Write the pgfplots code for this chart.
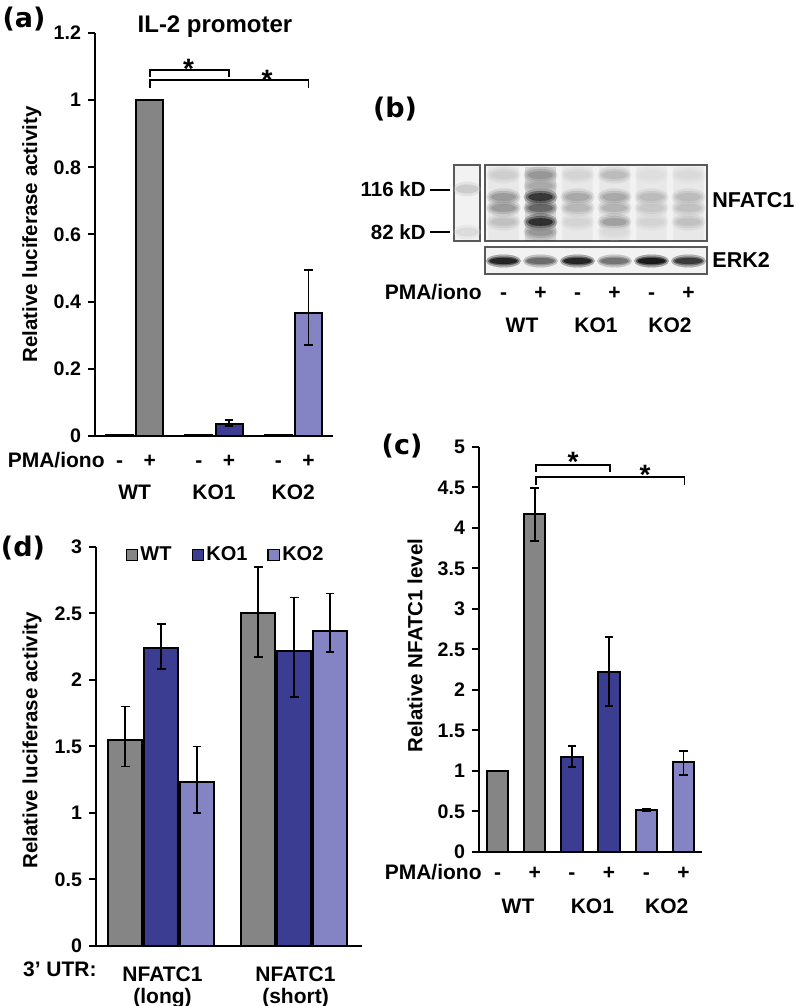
\documentclass[border=0pt]{standalone}
\usepackage{pgfplots}
\pgfplotsset{compat=1.18}
\usepackage{pgfplotstable}
\usepackage{fontspec}
\setmainfont{Liberation Sans}
\newfontfamily\panelfont{DejaVu Sans}

\definecolor{cWT}{RGB}{133,133,133}
\definecolor{cKOa}{RGB}{58,61,146}
\definecolor{cKOb}{RGB}{132,132,196}

% ---------- panel (a): IL-2 promoter ----------
\pgfplotstableread{
x y ep em
-0.19 0.003 0 0
0.19 1.000 0 0
}\aWT
\pgfplotstableread{
x y ep em
0.81 0.003 0 0
1.19 0.037 0.010 0.007
}\aKOa
\pgfplotstableread{
x y ep em
1.81 0.003 0 0
2.19 0.367 0.128 0.097
}\aKOb
% ---------- panel (c): NFATC1 level ----------
\pgfplotstableread{
x y ep em
0 1.00 0 0
1 4.17 0.32 0.33
}\cWT
\pgfplotstableread{
x y ep em
2 1.17 0.14 0.12
3 2.22 0.43 0.42
}\cKOa
\pgfplotstableread{
x y ep em
4 0.52 0.015 0.015
5 1.11 0.14 0.16
}\cKOb
% ---------- panel (d): 3' UTR ----------
\pgfplotstableread{
x y ep em
-0.28 1.55 0.25 0.20
0.72 2.50 0.35 0.33
}\dWT
\pgfplotstableread{
x y ep em
-0.01 2.24 0.18 0.16
0.99 2.22 0.40 0.35
}\dKOa
\pgfplotstableread{
x y ep em
0.26 1.23 0.27 0.23
1.26 2.37 0.28 0.16
}\dKOb
% ---------- panel (b): blot band intensities ----------
\pgfplotstableread{
x y c
1 66 0.18
1 44 0.45
1 33 0.45
1 19 0.25
2 66 0.45
2 55 0.35
2 44 0.95
2 33 0.70
2 19 1.00
2 9 0.45
3 66 0.15
3 44 0.38
3 33 0.30
3 19 0.15
4 66 0.28
4 44 0.38
4 33 0.32
4 19 0.42
4 9 0.12
5 66 0.10
5 44 0.28
5 33 0.22
5 19 0.15
6 66 0.12
6 44 0.28
6 33 0.25
6 19 0.25
}\blotN
\pgfplotstableread{
x y c
0.5 52 0.25
0.5 9 0.15
}\blotM
\pgfplotstableread{
x y c
1 13 0.95
2 13 0.62
3 13 0.95
4 13 0.58
5 13 1.00
6 13 0.85
}\blotE

\pgfplotsset{
  barax/.style={
    scale only axis, anchor=south west,
    axis x line=bottom, axis y line=left,
    axis line style={-, line width=1pt, black},
    tick align=outside, major tick length=3.5pt,
    ytick style={line width=1pt, black},
    xtick style={draw=none},
    yticklabel style={font=\fontsize{9.8}{11}\selectfont\bfseries},
    xticklabel style={font=\fontsize{10.5}{12}\selectfont\bfseries, anchor=base},
    /pgf/number format/assume math mode=true,
    ylabel style={font=\fontsize{10.25}{12}\selectfont\bfseries, anchor=center},
    clip=false,
  },
  errs/.style={error bars/.cd, y dir=both, y explicit,
    error bar style={line width=0.9pt, black, solid},
    error mark options={rotate=90, line width=0.9pt, black, mark size=2.2pt}},
  sqlegend/.style={legend image code/.code={\draw[##1, /tikz/.cd, draw=black, line width=0.8pt] (0pt,-2.8pt) -- (5.6pt,-2.8pt) -- (5.6pt,2.8pt) -- (0pt,2.8pt) -- cycle;}},
  blotax/.style={scale only axis, anchor=south west, xtick=\empty, ytick=\empty,
    axis line style={line width=0.6pt, black!65},
    axis background/.style={fill=black!5},
    colormap={blot}{color=(black!4) color=(black)},
    point meta min=0, point meta max=1},
  band/.style n args={3}{scatter, only marks, scatter src=explicit, mark=*, mark size=#1,
    scatter/use mapped color={draw=mapped color, fill=mapped color},
    mark options={xscale=#2, opacity=#3, line width=0.05pt}},
}

\begin{document}
\begin{tikzpicture}
\path[use as bounding box] (0,0) rectangle (400pt,503pt);

% ===================== (a) =====================
\begin{axis}[barax, at={(47.5pt,285pt)}, width=119pt, height=201.5pt,
  xmin=-0.5, xmax=2.5, ymin=0, ymax=1.2,
  ytick={0,0.2,0.4,0.6,0.8,1,1.2},
  xtick={-0.19,0.19,0.81,1.19,1.81,2.19}, xticklabels={-,+,-,+,-,+},
  xticklabel style={yshift=-12.5pt},
  extra x ticks={0,1,2}, extra x tick labels={WT,KO1,KO2},
  extra x tick style={xticklabel style={yshift=-16pt}},
  ylabel={Relative luciferase activity},
  ylabel style={at={(axis description cs:-0.265,0.5)}}]
\addplot[ybar, bar width=0.34, bar shift=0pt, fill=cWT, draw=black, line width=1pt, errs] table[x=x,y=y,y error plus=ep,y error minus=em]{\aWT};
\addplot[ybar, bar width=0.34, bar shift=0pt, fill=cKOa, draw=black, line width=1pt, errs] table[x=x,y=y,y error plus=ep,y error minus=em]{\aKOa};
\addplot[ybar, bar width=0.34, bar shift=0pt, fill=cKOb, draw=black, line width=1pt, errs] table[x=x,y=y,y error plus=ep,y error minus=em]{\aKOb};
% bar outlines
\addplot[sharp plot, black, line width=1pt, no marks] coordinates {(-0.36,0) (-0.36,0.003) (-0.02,0.003) (-0.02,0)};
\addplot[sharp plot, black, line width=1pt, no marks] coordinates {(0.02,0) (0.02,1.000) (0.36,1.000) (0.36,0)};
\addplot[sharp plot, black, line width=1pt, no marks] coordinates {(0.64,0) (0.64,0.003) (0.98,0.003) (0.98,0)};
\addplot[sharp plot, black, line width=1pt, no marks] coordinates {(1.02,0) (1.02,0.037) (1.36,0.037) (1.36,0)};
\addplot[sharp plot, black, line width=1pt, no marks] coordinates {(1.64,0) (1.64,0.003) (1.98,0.003) (1.98,0)};
\addplot[sharp plot, black, line width=1pt, no marks] coordinates {(2.02,0) (2.02,0.367) (2.36,0.367) (2.36,0)};
% significance brackets
\addplot[sharp plot, black, line width=0.9pt, no marks] coordinates {(0.19,1.068) (0.19,1.089) (1.19,1.089) (1.19,1.068)};
\addplot[sharp plot, black, line width=0.9pt, no marks] coordinates {(0.19,1.036) (0.19,1.060) (2.19,1.060) (2.19,1.036)};
\node[font=\fontsize{14}{14}\selectfont\bfseries, anchor=north, inner sep=0pt] at (axis cs:0.68,1.124) {*};
\node[font=\fontsize{14}{14}\selectfont\bfseries, anchor=north, inner sep=0pt] at (axis cs:1.67,1.091) {*};
\end{axis}

% ===================== (b) blot =====================
\begin{axis}[blotax, at={(227pt,382.5pt)}, width=13pt, height=38pt,
  xmin=0, xmax=1, ymin=0, ymax=76]
\addplot[band={3.6pt}{1.9}{0.25}] table[x=x,y=y,meta=c]{\blotM};
\addplot[band={2.2pt}{2.5}{0.5}] table[x=x,y=y,meta=c]{\blotM};
\end{axis}
\begin{axis}[blotax, at={(242.5pt,382.5pt)}, width=111pt, height=38pt,
  xmin=0.5, xmax=6.5, ymin=0, ymax=76]
\addplot[ybar, bar width=0.82, bar shift=0pt, draw=none, fill=black, fill opacity=0.04] coordinates {(1,74) (3,74) (4,74) (5,74) (6,74)};
\addplot[ybar, bar width=0.82, bar shift=0pt, draw=none, fill=black, fill opacity=0.12] coordinates {(2,74)};
\addplot[band={4.2pt}{2.0}{0.22}] table[x=x,y=y,meta=c]{\blotN};
\addplot[band={3.0pt}{2.45}{0.35}] table[x=x,y=y,meta=c]{\blotN};
\addplot[band={1.9pt}{3.2}{0.55}] table[x=x,y=y,meta=c]{\blotN};
\end{axis}
\begin{axis}[blotax, at={(242.5pt,366pt)}, width=111pt, height=13.5pt,
  xmin=0.5, xmax=6.5, ymin=0, ymax=27,
  xtick={1,2,3,4,5,6}, xticklabels={-,+,-,+,-,+},
  xtick style={draw=none},
  xticklabel style={font=\fontsize{10.5}{12}\selectfont\bfseries, anchor=base, yshift=-13pt},
  extra x ticks={1.5,3.5,5.5}, extra x tick labels={WT,KO1,KO2},
  extra x tick style={xticklabel style={yshift=-16.5pt}}]
\addplot[band={3.2pt}{2.7}{0.3}] table[x=x,y=y,meta=c]{\blotE};
\addplot[band={2.2pt}{3.5}{0.45}] table[x=x,y=y,meta=c]{\blotE};
\addplot[band={1.5pt}{4.6}{0.7}] table[x=x,y=y,meta=c]{\blotE};
\end{axis}

% ===================== (c) =====================
\begin{axis}[barax, at={(239.5pt,77pt)}, width=111.5pt, height=202.5pt,
  xmin=-0.5, xmax=5.5, ymin=0, ymax=5,
  ytick={0,0.5,1,1.5,2,2.5,3,3.5,4,4.5,5},
  xtick={0,1,2,3,4,5}, xticklabels={-,+,-,+,-,+},
  xticklabel style={yshift=-10.5pt},
  extra x ticks={0.55,2.55,4.55}, extra x tick labels={WT,KO1,KO2},
  extra x tick style={xticklabel style={yshift=-16.5pt}},
  ylabel={Relative NFATC1 level},
  ylabel style={at={(axis description cs:-0.287,0.51)}}]
\addplot[ybar, bar width=0.57, bar shift=0pt, fill=cWT, draw=black, line width=1pt, errs] table[x=x,y=y,y error plus=ep,y error minus=em]{\cWT};
\addplot[ybar, bar width=0.57, bar shift=0pt, fill=cKOa, draw=black, line width=1pt, errs] table[x=x,y=y,y error plus=ep,y error minus=em]{\cKOa};
\addplot[ybar, bar width=0.57, bar shift=0pt, fill=cKOb, draw=black, line width=1pt, errs] table[x=x,y=y,y error plus=ep,y error minus=em]{\cKOb};
% bar outlines
\addplot[sharp plot, black, line width=1pt, no marks] coordinates {(-0.285,0) (-0.285,1.00) (0.285,1.00) (0.285,0)};
\addplot[sharp plot, black, line width=1pt, no marks] coordinates {(0.715,0) (0.715,4.17) (1.285,4.17) (1.285,0)};
\addplot[sharp plot, black, line width=1pt, no marks] coordinates {(1.715,0) (1.715,1.17) (2.285,1.17) (2.285,0)};
\addplot[sharp plot, black, line width=1pt, no marks] coordinates {(2.715,0) (2.715,2.22) (3.285,2.22) (3.285,0)};
\addplot[sharp plot, black, line width=1pt, no marks] coordinates {(3.715,0) (3.715,0.52) (4.285,0.52) (4.285,0)};
\addplot[sharp plot, black, line width=1pt, no marks] coordinates {(4.715,0) (4.715,1.11) (5.285,1.11) (5.285,0)};
% significance brackets
\addplot[sharp plot, black, line width=0.9pt, no marks] coordinates {(1.03,4.69) (1.03,4.78) (3.03,4.78) (3.03,4.69)};
\addplot[sharp plot, black, line width=0.9pt, no marks] coordinates {(1.03,4.53) (1.03,4.63) (5.03,4.63) (5.03,4.53)};
\node[font=\fontsize{14}{14}\selectfont\bfseries, anchor=north, inner sep=0pt] at (axis cs:2.03,4.94) {*};
\node[font=\fontsize{14}{14}\selectfont\bfseries, anchor=north, inner sep=0pt] at (axis cs:3.97,4.78) {*};
\end{axis}

% ===================== (d) =====================
\begin{axis}[barax, at={(48pt,30pt)}, width=133pt, height=199.5pt,
  xmin=-0.5, xmax=1.5, ymin=0, ymax=3,
  ytick={0,0.5,1,1.5,2,2.5,3},
  xtick={0,1}, xticklabels={{NFATC1\\(long)},{NFATC1\\(short)}},
  xticklabel style={align=center, anchor=north, inner sep=0pt, yshift=-6.5pt,
    font=\fontsize{10.5}{11}\selectfont\bfseries},
  ylabel={Relative luciferase activity},
  ylabel style={at={(axis description cs:-0.24,0.516)}},
  legend style={at={(0.11,1.012)}, anchor=north west, draw=none, fill=none,
    inner sep=0pt, font=\fontsize{10}{12}\selectfont\bfseries,
    nodes={inner xsep=1pt},
    /tikz/every even column/.append style={column sep=9pt}},
  legend columns=3, legend cell align=left]
\addplot[ybar, bar width=0.255, bar shift=0pt, fill=cWT, draw=black, line width=1pt, sqlegend, errs] table[x=x,y=y,y error plus=ep,y error minus=em]{\dWT};
\addlegendentry{WT}
\addplot[ybar, bar width=0.255, bar shift=0pt, fill=cKOa, draw=black, line width=1pt, sqlegend, errs] table[x=x,y=y,y error plus=ep,y error minus=em]{\dKOa};
\addlegendentry{KO1}
\addplot[ybar, bar width=0.255, bar shift=0pt, fill=cKOb, draw=black, line width=1pt, sqlegend, errs] table[x=x,y=y,y error plus=ep,y error minus=em]{\dKOb};
\addlegendentry{KO2}
% bar outlines
\addplot[sharp plot, black, line width=1pt, no marks] coordinates {(-0.4075,0) (-0.4075,1.55) (-0.1525,1.55) (-0.1525,0)};
\addplot[sharp plot, black, line width=1pt, no marks] coordinates {(-0.1375,0) (-0.1375,2.24) (0.1175,2.24) (0.1175,0)};
\addplot[sharp plot, black, line width=1pt, no marks] coordinates {(0.1325,0) (0.1325,1.23) (0.3875,1.23) (0.3875,0)};
\addplot[sharp plot, black, line width=1pt, no marks] coordinates {(0.5925,0) (0.5925,2.50) (0.8475,2.50) (0.8475,0)};
\addplot[sharp plot, black, line width=1pt, no marks] coordinates {(0.8625,0) (0.8625,2.22) (1.1175,2.22) (1.1175,0)};
\addplot[sharp plot, black, line width=1pt, no marks] coordinates {(1.1325,0) (1.1325,2.37) (1.3875,2.37) (1.3875,0)};
\end{axis}

% ===================== text annotations =====================
\begin{scope}[every node/.style={inner sep=0pt}]
\node[anchor=base, font=\panelfont\fontsize{13.5}{15}\selectfont\bfseries] at (12pt,489pt) {(a)};
\node[anchor=base, font=\panelfont\fontsize{13.5}{15}\selectfont\bfseries] at (197.5pt,444pt) {(b)};
\node[anchor=base, font=\panelfont\fontsize{13.5}{15}\selectfont\bfseries] at (201pt,275.5pt) {(c)};
\node[anchor=base, font=\panelfont\fontsize{13.5}{15}\selectfont\bfseries] at (11.5pt,224.5pt) {(d)};
\node[anchor=base, font=\fontsize{12}{14}\selectfont\bfseries] at (107.5pt,486.5pt) {IL-2 promoter};
\node[anchor=base east, font=\fontsize{10.5}{12}\selectfont\bfseries] at (52.5pt,269pt) {PMA/iono};
\node[anchor=base east, font=\fontsize{10.5}{12}\selectfont\bfseries] at (241pt,63pt) {PMA/iono};
\node[anchor=base east, font=\fontsize{10.5}{12}\selectfont\bfseries] at (241pt,353pt) {PMA/iono};
\node[anchor=base east, font=\fontsize{10.5}{12}\selectfont\bfseries] at (48.5pt,14.5pt) {3’ UTR:};
\node[anchor=base east, font=\fontsize{10.25}{12}\selectfont\bfseries] at (213pt,404.5pt) {116 kD};
\node[anchor=base east, font=\fontsize{10.25}{12}\selectfont\bfseries] at (213pt,383pt) {82 kD};
\node[anchor=base west, font=\fontsize{10.75}{12}\selectfont\bfseries] at (356pt,399pt) {NFATC1};
\node[anchor=base west, font=\fontsize{10.75}{12}\selectfont\bfseries] at (356pt,369pt) {ERK2};
\end{scope}
\draw[line width=0.6pt] (215pt,408pt) -- (225pt,408pt);
\draw[line width=0.6pt] (215pt,387pt) -- (225pt,387pt);
\end{tikzpicture}
\end{document}
